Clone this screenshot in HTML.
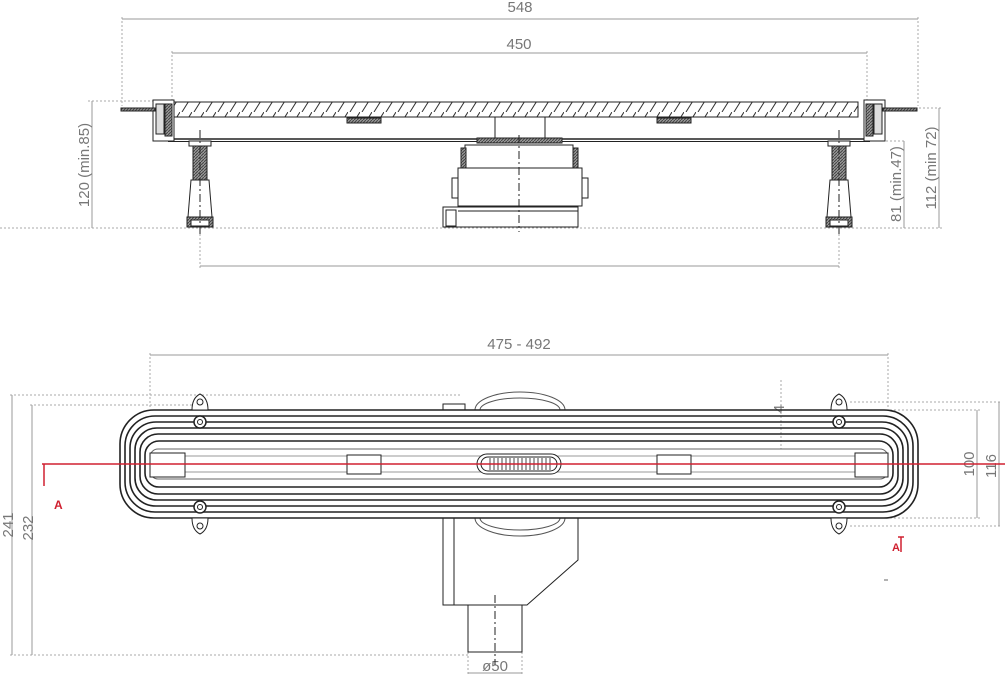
<!DOCTYPE html>
<html><head><meta charset="utf-8"><style>
html,body{margin:0;padding:0;background:#fff;overflow:hidden;}
svg{display:block;}
text{font-family:"Liberation Sans",sans-serif;fill:#777;}
</style></head><body>
<svg width="1005" height="676" viewBox="0 0 1005 676" xmlns="http://www.w3.org/2000/svg">
<defs>
<pattern id="hatch" width="12" height="16" patternUnits="userSpaceOnUse">
<line x1="12" y1="0" x2="2" y2="16" stroke="#333" stroke-width="1"/>
</pattern>
<pattern id="dh" width="3" height="3" patternUnits="userSpaceOnUse">
<rect width="3" height="3" fill="#999"/><line x1="0" y1="3" x2="3" y2="0" stroke="#444"/>
</pattern>
</defs>
<g fill="none" stroke="#aaa" stroke-width="1" stroke-dasharray="2,2">
<line x1="122" y1="17" x2="122" y2="106"/>
<line x1="918" y1="17" x2="918" y2="106"/>
<line x1="172" y1="51" x2="172" y2="100"/>
<line x1="867" y1="51" x2="867" y2="100"/>
<line x1="0" y1="228" x2="905" y2="228"/>
<line x1="88" y1="101" x2="155" y2="101"/>
<line x1="870" y1="141" x2="906" y2="141"/>
<line x1="915" y1="108" x2="942" y2="108"/>
<line x1="840" y1="228" x2="942" y2="228"/>
<line x1="200" y1="230" x2="200" y2="268"/>
<line x1="839" y1="230" x2="839" y2="268"/>
<line x1="150" y1="353" x2="150" y2="408"/>
<line x1="888" y1="353" x2="888" y2="408"/>
<line x1="10" y1="395" x2="460" y2="395"/>
<line x1="30" y1="405" x2="200" y2="405"/>
<line x1="10" y1="655" x2="470" y2="655"/>
<line x1="850" y1="402" x2="1001" y2="402"/>
<line x1="850" y1="410" x2="980" y2="410"/>
<line x1="850" y1="518" x2="980" y2="518"/>
<line x1="850" y1="526" x2="1001" y2="526"/>
<line x1="781" y1="380" x2="781" y2="465"/>
<line x1="468" y1="652" x2="468" y2="676"/>
<line x1="522" y1="652" x2="522" y2="676"/>
</g>
<g stroke="#999" stroke-width="1" fill="none">
<line x1="122" y1="19" x2="918" y2="19"/>
<line x1="172" y1="53" x2="867" y2="53"/>
<line x1="200" y1="266" x2="839" y2="266"/>
<line x1="92" y1="101" x2="92" y2="228"/>
<line x1="904" y1="141" x2="904" y2="228"/>
<line x1="939" y1="108" x2="939" y2="228"/>
<line x1="150" y1="355" x2="888" y2="355"/>
<line x1="12" y1="395" x2="12" y2="655"/>
<line x1="32" y1="405" x2="32" y2="655"/>
<line x1="977" y1="410" x2="977" y2="518"/>
<line x1="999" y1="402" x2="999" y2="526"/>
<line x1="468" y1="673" x2="522" y2="673"/>
</g>
<g font-size="15">
<text x="520" y="12" text-anchor="middle">548</text>
<text x="519" y="49" text-anchor="middle">450</text>
<text x="519" y="349" text-anchor="middle">475 - 492</text>
<text x="495" y="671" text-anchor="middle">ø50</text>
<text transform="translate(89,165) rotate(-90)" text-anchor="middle">120 (min.85)</text>
<text transform="translate(901,184) rotate(-90)" text-anchor="middle">81 (min.47)</text>
<text transform="translate(936,168) rotate(-90)" text-anchor="middle">112 (min 72)</text>
<text transform="translate(13,525) rotate(-90)" text-anchor="middle">241</text>
<text transform="translate(33,528) rotate(-90)" text-anchor="middle">232</text>
<text transform="translate(974,464) rotate(-90)" text-anchor="middle">100</text>
<text transform="translate(996,466) rotate(-90)" text-anchor="middle">116</text>
<text transform="translate(784,409) rotate(-90)" text-anchor="middle">4</text>
</g>
<g stroke="#222" stroke-width="1" fill="none">
<rect x="173" y="102" width="685" height="15" fill="url(#hatch)"/>
<line x1="168" y1="139" x2="870" y2="139" stroke-width="1.5"/>
<line x1="168" y1="141.5" x2="870" y2="141.5"/>
<rect x="347" y="118" width="34" height="5" fill="url(#dh)"/>
<rect x="657" y="118" width="34" height="5" fill="url(#dh)"/>
<rect x="153" y="100" width="21" height="41" fill="#fff"/>
<rect x="121" y="108" width="34" height="3" fill="url(#dh)"/>
<rect x="156" y="104" width="8" height="30" fill="#ddd"/>
<rect x="165" y="104" width="7" height="32" fill="url(#dh)"/>
<rect x="864" y="100" width="21" height="41" fill="#fff"/>
<rect x="883" y="108" width="34" height="3" fill="url(#dh)"/>
<rect x="874" y="104" width="8" height="30" fill="#ddd"/>
<rect x="866" y="104" width="7" height="32" fill="url(#dh)"/>
<line x1="495" y1="117" x2="495" y2="139"/><line x1="545" y1="117" x2="545" y2="139"/>
<rect x="477" y="138" width="85" height="5" fill="url(#dh)"/>
<rect x="465" y="145" width="108" height="24" fill="#fff"/>
<rect x="458" y="168" width="124" height="38" fill="#fff"/>
<rect x="461" y="148" width="5" height="20" fill="url(#dh)"/>
<rect x="573" y="148" width="5" height="20" fill="url(#dh)"/>
<rect x="452" y="178" width="6" height="20" fill="#fff"/>
<rect x="582" y="178" width="6" height="20" fill="#fff"/>
<rect x="443" y="207" width="135" height="20" fill="#fff"/>
<rect x="446" y="210" width="10" height="16"/>
<line x1="458" y1="211" x2="578" y2="211"/>
<line x1="519" y1="135" x2="519" y2="232" stroke-dasharray="8,3,2,3"/>
<g id="leg">
<rect x="189" y="141" width="22" height="5" fill="#fff"/>
<rect x="193" y="146" width="14" height="34" fill="url(#dh)"/>
<path d="M191 180 L209 180 L212 217 L188 217 Z" fill="#fff"/>
<rect x="187" y="217" width="26" height="10" fill="url(#dh)"/>
<rect x="191" y="220" width="18" height="6" fill="#fff"/>
<line x1="200" y1="130" x2="200" y2="236" stroke-dasharray="8,3,2,3"/>
</g>
<use href="#leg" x="639"/>
</g>
<g stroke="#222" fill="none" stroke-width="1">
<path d="M475 410 A45 18 0 0 1 565 410" stroke="#555"/>
<path d="M480 410 A40 12 0 0 1 560 410" stroke="#555"/>
<path d="M475 518 A45 18 0 0 0 565 518" stroke="#555"/>
<path d="M480 518 A40 12 0 0 0 560 518" stroke="#555"/>
<rect x="443" y="404" width="22" height="6"/>
<path d="M443 518 L443 605 L527 605 L578 560 L578 518"/>
<line x1="454" y1="518" x2="454" y2="605"/>
<rect x="468" y="605" width="54" height="47"/>
<line x1="495" y1="595" x2="495" y2="665" stroke-dasharray="8,3,2,3"/>
<g stroke-width="1.6">
<rect x="120" y="410" width="798" height="108" rx="34"/>
<rect x="125" y="416" width="788" height="96" rx="30"/>
<rect x="130" y="422" width="778" height="84" rx="26"/>
<rect x="135" y="428" width="768" height="72" rx="22"/>
<rect x="140" y="434" width="758" height="60" rx="18"/>
<rect x="145" y="441" width="748" height="46" rx="14"/>
</g>
<rect x="150" y="449" width="738" height="30" rx="8" fill="#fff" stroke="#666"/>
<line x1="160" y1="456" x2="878" y2="456" stroke="#999"/>
<line x1="160" y1="472" x2="878" y2="472" stroke="#999"/>
<rect x="150" y="453" width="35" height="24" fill="#fff"/>
<rect x="347" y="455" width="34" height="19" fill="#fff"/>
<rect x="657" y="455" width="34" height="19" fill="#fff"/>
<rect x="855" y="453" width="33" height="24" fill="#fff"/>
<rect x="477" y="454" width="84" height="20" rx="10" fill="#fff"/>
<rect x="481" y="457" width="76" height="14" rx="7"/>
<path d="M490 458 v12 M494 458 v12 M498 458 v12 M502 458 v12 M506 458 v12 M510 458 v12 M514 458 v12 M518 458 v12 M522 458 v12 M526 458 v12 M530 458 v12 M534 458 v12 M538 458 v12 M542 458 v12 M546 458 v12 M550 458 v12" stroke="#444"/>
<g id="ears">
<path d="M192 410 Q192 398 200 394 Q208 398 208 410 Z" fill="#fff"/>
<circle cx="200" cy="402" r="3"/>
<circle cx="200" cy="422" r="6" fill="#fff" stroke-width="1.5"/><circle cx="200" cy="422" r="2.5"/>
<path d="M192 518 Q192 530 200 534 Q208 530 208 518 Z" fill="#fff"/>
<circle cx="200" cy="526" r="3"/>
<circle cx="200" cy="507" r="6" fill="#fff" stroke-width="1.5"/><circle cx="200" cy="507" r="2.5"/>
</g>
<use href="#ears" x="639"/>
</g>
<g stroke="#d02030" stroke-width="1.5" fill="none">
<line x1="42" y1="464" x2="1005" y2="464"/>
<line x1="44" y1="464" x2="44" y2="486"/>
<line x1="901" y1="537" x2="901" y2="552"/>
<line x1="898" y1="537" x2="904" y2="537"/>
</g>
<line x1="884" y1="580" x2="888" y2="580" stroke="#666"/>
<text x="54" y="509" font-size="12" font-weight="bold" style="fill:#d02030">A</text>
<text x="892" y="551" font-size="11" font-weight="bold" style="fill:#d02030">A</text>
</svg>
</body></html>
